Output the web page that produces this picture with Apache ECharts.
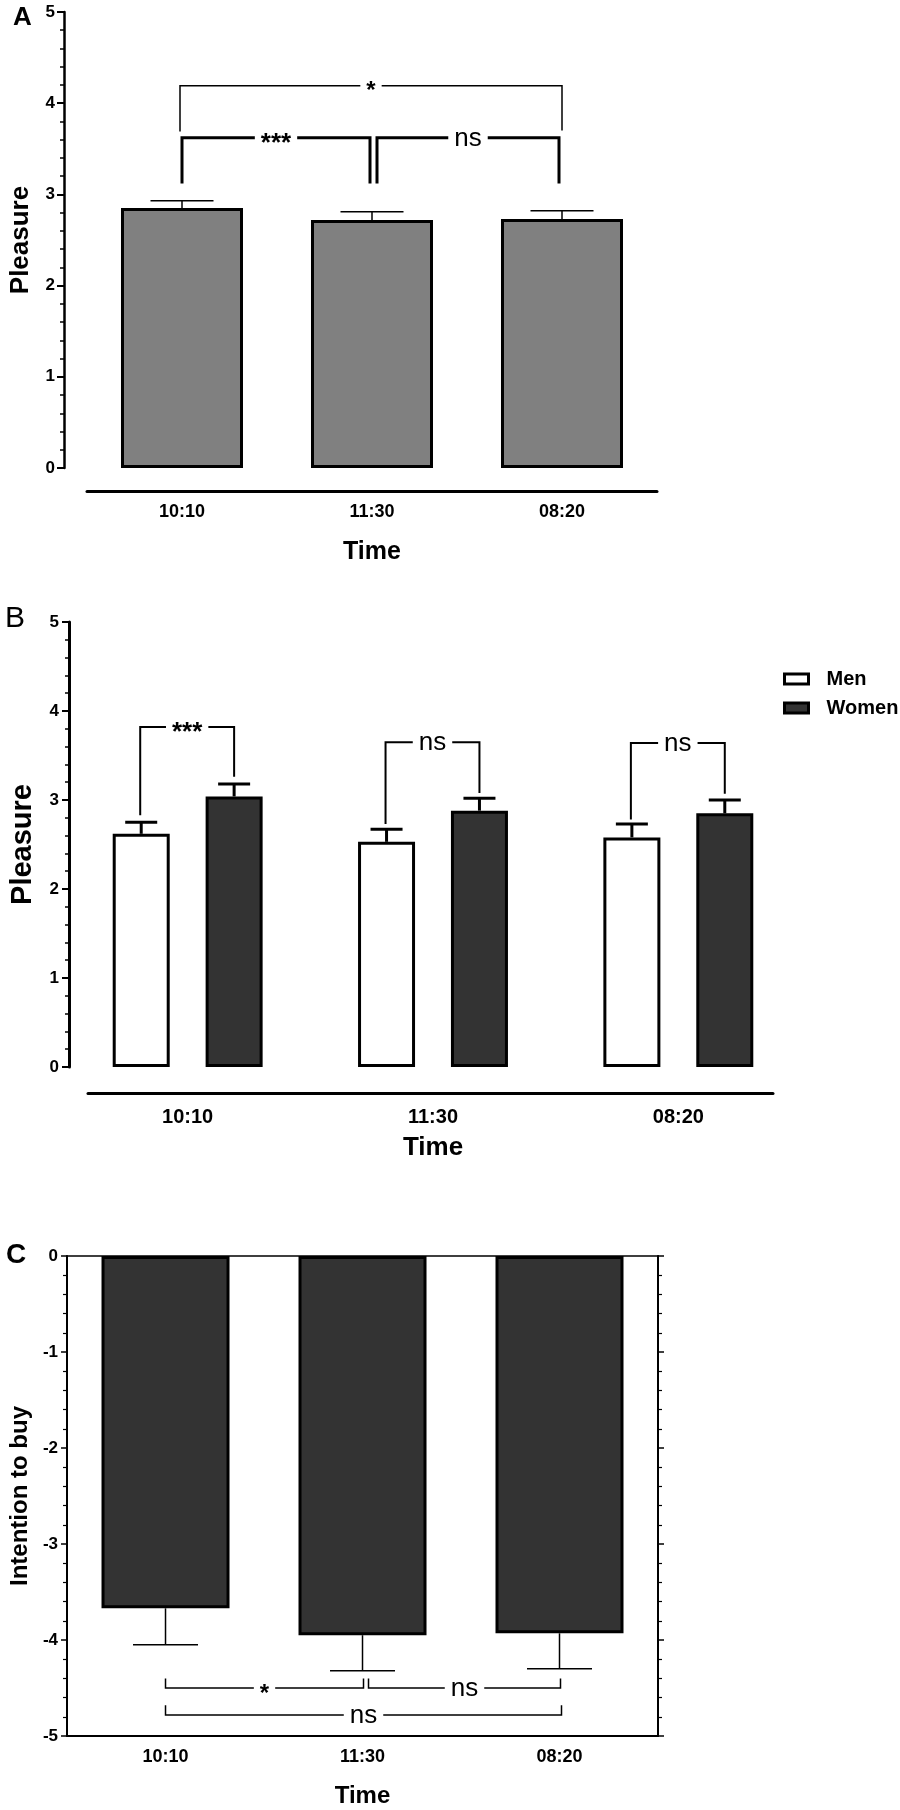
<!DOCTYPE html>
<html>
<head>
<meta charset="utf-8">
<script src="https://cdn.jsdelivr.net/npm/echarts@6/dist/echarts.min.js"></script>
<style>html,body{margin:0;padding:0;background:#fff}#c{width:900px;height:1810px}</style>
</head>
<body>
<div id="c"></div>
<script>
// ---------- data ----------
const categories = ['10:10', '11:30', '08:20'];
// Panel A: pleasure by time
const pleasureMean = [2.85, 2.72, 2.73];
const pleasureSem  = [0.08, 0.09, 0.09];
// Panel B: pleasure by time and gender
const menMean   = [2.62, 2.53, 2.58];
const menSem    = [0.13, 0.14, 0.15];
const womenMean = [3.04, 2.88, 2.85];
const womenSem  = [0.14, 0.14, 0.15];
// Panel C: intention to buy
const intentMean = [-3.67, -3.95, -3.93];
const intentSem  = [0.38, 0.37, 0.37];
// y tick values
const pleasureTicks = [0, 1, 2, 3, 4, 5];
const intentTicks = [-5, -4, -3, -2, -1, 0];
// significance brackets
const sigA_pairs = [[0, 2], [0, 1], [1, 2]];
const sigA_top   = [4.19, 3.62, 3.62];
const sigA_legs  = [[3.69, 3.70], [3.12, 3.12], [3.12, 3.12]];
const sigA_text  = ['*', '***', 'ns'];
const sigB_cat   = [0, 1, 2];
const sigB_top   = [3.82, 3.65, 3.64];
const sigB_legs  = [[2.83, 3.26], [2.73, 3.08], [2.78, 3.07]];
const sigB_text  = ['***', 'ns', 'ns'];
const sigC_pairs = [[0, 1], [1, 2], [0, 2]];
const sigC_line  = [-4.50, -4.50, -4.78];
const sigC_legs  = [[-4.40, -4.40], [-4.40, -4.40], [-4.68, -4.68]];
const sigC_text  = ['*', 'ns', 'ns'];

// ---------- styling helpers ----------
const FONT = '"Liberation Sans", Arial, Helvetica, sans-serif';
const BLACK = '#000';
const B_BARW = 57, B_GAP = 0.63;
const B_OFF = B_BARW * (1 + B_GAP) / 2;

function errRender(offset, capHalf, lw) {
  return function (params, api) {
    const i = api.value(0);
    const a = api.coord([i, api.value(1)]);
    const b = api.coord([i, api.value(2)]);
    const x = a[0] + offset;
    return {
      type: 'group',
      children: [
        { type: 'line', shape: { x1: x, y1: a[1], x2: x, y2: b[1] }, style: { stroke: BLACK, lineWidth: lw } },
        { type: 'line', shape: { x1: x - capHalf, y1: b[1], x2: x + capHalf, y2: b[1] }, style: { stroke: BLACK, lineWidth: lw } }
      ]
    };
  };
}

function bracketRender(getX, tops, legs, texts, lwFn) {
  return function (params, api) {
    const k = params.dataIndex;
    const xs = getX(api, k);
    const x1 = xs[0], x2 = xs[1];
    const yT = api.coord([0, tops[k]])[1];
    const y1 = api.coord([0, legs[k][0]])[1];
    const y2 = api.coord([0, legs[k][1]])[1];
    const t = texts[k];
    const star = t.indexOf('*') >= 0;
    const font = star ? ('bold ' + (t.length > 1 ? 26 : 24) + 'px ' + FONT) : ('26px ' + FONT);
    return {
      type: 'group',
      children: [
        { type: 'polyline', shape: { points: [[x1, y1], [x1, yT], [x2, yT], [x2, y2]] },
          style: { stroke: BLACK, lineWidth: lwFn(k), fill: 'none' } },
        { type: 'text', x: (x1 + x2) / 2, y: yT + (star ? 6 : 1),
          style: { text: t, font: font, fill: BLACK, align: 'center', verticalAlign: 'middle',
                   backgroundColor: '#fff', padding: [0, 6] } }
      ]
    };
  };
}

const dxA = [[-2, 0], [0, -2], [5, -3]];
const dxC = [[0, 1], [6, 1], [0, 2]];

function catAxis(grid, extra) {
  return Object.assign({
    gridIndex: grid, type: 'category', data: categories,
    axisLine: { onZero: false, lineStyle: { color: BLACK, width: 3 } },
    axisTick: { alignWithLabel: true, length: 7, lineStyle: { color: BLACK, width: 2 } },
    axisLabel: { color: BLACK, fontWeight: 'bold', fontSize: 18, margin: 12, fontFamily: FONT },
    splitLine: { show: false },
    nameLocation: 'middle',
    nameTextStyle: { color: BLACK, fontWeight: 'bold', fontSize: 25, fontFamily: FONT }
  }, extra);
}

function valAxis(grid, min, max, extra) {
  return Object.assign({
    gridIndex: grid, type: 'value', min: min, max: max, interval: 1,
    axisLine: { show: true, onZero: false, lineStyle: { color: BLACK, width: 2.5 } },
    axisTick: { show: true, length: 7, lineStyle: { color: BLACK, width: 2 } },
    minorTick: { show: true, splitNumber: 5, length: 4, lineStyle: { color: BLACK, width: 1.5 } },
    axisLabel: { color: BLACK, fontWeight: 'bold', fontSize: 17, margin: 9, fontFamily: FONT },
    splitLine: { show: false },
    minorSplitLine: { show: false },
    nameLocation: 'middle',
    nameTextStyle: { color: BLACK, fontWeight: 'bold', fontSize: 26, fontFamily: FONT }
  }, extra);
}

const chart = echarts.init(document.getElementById('c'), null, { renderer: 'canvas' });

const option = {
  animation: false,
  backgroundColor: '#fff',
  textStyle: { fontFamily: FONT },
  graphic: [
    { type: 'text', left: 13, top: 5, style: { text: 'A', font: 'bold 26px ' + FONT, fill: BLACK } },
    { type: 'text', left: 5, top: 604, style: { text: 'B', font: '30px ' + FONT, fill: BLACK } },
    { type: 'text', left: 6, top: 1241, style: { text: 'C', font: 'bold 28px ' + FONT, fill: BLACK } }
  ],
  legend: {
    data: ['Men', 'Women'], orient: 'vertical', left: 778, top: 664,
    itemWidth: 24, itemHeight: 10, itemGap: 9, icon: 'rect', selectedMode: false,
    itemStyle: { borderWidth: 3, borderColor: BLACK },
    textStyle: { fontSize: 20, fontWeight: 'bold', color: BLACK, fontFamily: FONT, padding: [0, 0, 0, 13] }
  },
  grid: [
    { left: 85, top: 12, width: 572, height: 456 },
    { left: 59, top: 622, width: 742, height: 445 },
    { left: 88, top: 622, width: 685, height: 445 },
    { left: 62, top: 1256, width: 596, height: 480 }
  ],
  xAxis: [
    catAxis(0, { offset: 23, name: 'Time', nameGap: 49 }),
    catAxis(1, {
      offset: 26, name: 'Time', nameGap: 42,
      axisLine: { show: false, onZero: false },
      axisTick: { alignWithLabel: true, length: 6, lineStyle: { color: BLACK, width: 3 } },
      axisLabel: { color: BLACK, fontWeight: 'bold', fontSize: 20, margin: 14, fontFamily: FONT },
      nameTextStyle: { color: BLACK, fontWeight: 'bold', fontSize: 26, fontFamily: FONT }
    }),
    { gridIndex: 2, type: 'value', min: 0, max: 1, offset: 26,
      axisLine: { show: true, onZero: false, lineStyle: { color: BLACK, width: 3 } },
      axisTick: { show: false }, axisLabel: { show: false }, splitLine: { show: false } },
    catAxis(3, {
      position: 'bottom', name: 'Time', nameGap: 48,
      axisLine: { onZero: false, lineStyle: { color: BLACK, width: 2 } },
      axisTick: { alignWithLabel: true, length: 6, lineStyle: { color: BLACK, width: 1.5 } },
      nameTextStyle: { color: BLACK, fontWeight: 'bold', fontSize: 24, fontFamily: FONT }
    }),
    catAxis(3, {
      position: 'top',
      axisLine: { onZero: false, lineStyle: { color: BLACK, width: 1.5 } },
      axisTick: { alignWithLabel: true, length: 7, lineStyle: { color: BLACK, width: 1.5 } },
      axisLabel: { show: false }
    })
  ],
  yAxis: [
    valAxis(0, pleasureTicks[0], pleasureTicks[pleasureTicks.length - 1], { offset: 23, name: 'Pleasure', nameGap: 30 }),
    valAxis(1, pleasureTicks[0], pleasureTicks[pleasureTicks.length - 1], {
      offset: -4, name: 'Pleasure', nameGap: 32,
      axisLine: { show: true, onZero: false, lineStyle: { color: BLACK, width: 3 } },
      axisLabel: { color: BLACK, fontWeight: 'bold', fontSize: 17, margin: 10, fontFamily: FONT },
      nameTextStyle: { color: BLACK, fontWeight: 'bold', fontSize: 29, fontFamily: FONT }
    }),
    { gridIndex: 2, type: 'value', show: false, min: 0, max: 1 },
    valAxis(3, intentTicks[0], intentTicks[intentTicks.length - 1], {
      position: 'left', name: 'Intention to buy', nameGap: 33,
      axisLine: { show: true, onZero: false, lineStyle: { color: BLACK, width: 2 } },
      axisTick: { show: true, length: 6, lineStyle: { color: BLACK, width: 1.5 } },
      minorTick: { show: true, splitNumber: 5, length: 4, lineStyle: { color: BLACK, width: 1.2 } },
      nameTextStyle: { color: BLACK, fontWeight: 'bold', fontSize: 24, fontFamily: FONT }
    }),
    valAxis(3, intentTicks[0], intentTicks[intentTicks.length - 1], {
      position: 'right',
      axisLine: { show: true, onZero: false, lineStyle: { color: BLACK, width: 2 } },
      axisTick: { show: true, length: 6, lineStyle: { color: BLACK, width: 1.5 } },
      minorTick: { show: true, splitNumber: 5, length: 4, lineStyle: { color: BLACK, width: 1.2 } },
      axisLabel: { show: false }
    })
  ],
  series: [
    // Panel A
    { type: 'bar', xAxisIndex: 0, yAxisIndex: 0, data: pleasureMean, barWidth: 122,
      itemStyle: { color: '#808080', borderColor: BLACK, borderWidth: 3 }, z: 2 },
    { type: 'custom', xAxisIndex: 0, yAxisIndex: 0, z: 3,
      renderItem: errRender(0, 31.5, 1.5),
      encode: { x: 0, y: [1, 2] },
      data: pleasureMean.map((m, i) => [i, m, m + pleasureSem[i]]) },
    { type: 'custom', xAxisIndex: 0, yAxisIndex: 0, z: 4,
      renderItem: bracketRender(
        (api, k) => [api.coord([sigA_pairs[k][0], 0])[0] + dxA[k][0], api.coord([sigA_pairs[k][1], 0])[0] + dxA[k][1]],
        sigA_top, sigA_legs, sigA_text, k => (k === 0 ? 1.5 : 3)),
      encode: { x: 0, y: 1 },
      data: sigA_top.map((t, k) => [sigA_pairs[k][0], t]) },
    // Panel B
    { name: 'Men', type: 'bar', xAxisIndex: 1, yAxisIndex: 1, data: menMean, barWidth: B_BARW, barGap: (B_GAP * 100) + '%',
      itemStyle: { color: '#fff', borderColor: BLACK, borderWidth: 3 }, z: 2 },
    { name: 'Women', type: 'bar', xAxisIndex: 1, yAxisIndex: 1, data: womenMean, barWidth: B_BARW, barGap: (B_GAP * 100) + '%',
      itemStyle: { color: '#333333', borderColor: BLACK, borderWidth: 3 }, z: 2 },
    { type: 'custom', xAxisIndex: 1, yAxisIndex: 1, z: 3,
      renderItem: errRender(-B_OFF, 16, 3),
      encode: { x: 0, y: [1, 2] },
      data: menMean.map((m, i) => [i, m, m + menSem[i]]) },
    { type: 'custom', xAxisIndex: 1, yAxisIndex: 1, z: 3,
      renderItem: errRender(B_OFF, 16, 3),
      encode: { x: 0, y: [1, 2] },
      data: womenMean.map((m, i) => [i, m, m + womenSem[i]]) },
    { type: 'custom', xAxisIndex: 1, yAxisIndex: 1, z: 4,
      renderItem: bracketRender(
        (api, k) => { const c = api.coord([sigB_cat[k], 0])[0]; return [c - B_OFF - 1, c + B_OFF]; },
        sigB_top, sigB_legs, sigB_text, () => 2),
      encode: { x: 0, y: 1 },
      data: sigB_top.map((t, k) => [sigB_cat[k], t]) },
    // Panel C
    { type: 'bar', xAxisIndex: 3, yAxisIndex: 3, data: intentMean, barWidth: 128,
      itemStyle: { color: '#333333', borderColor: BLACK, borderWidth: 3 }, z: 2 },
    { type: 'custom', xAxisIndex: 3, yAxisIndex: 3, z: 3,
      renderItem: errRender(0, 32.5, 1.5),
      encode: { x: 0, y: [1, 2] },
      data: intentMean.map((m, i) => [i, m, m - intentSem[i]]) },
    { type: 'custom', xAxisIndex: 3, yAxisIndex: 3, z: 4,
      renderItem: bracketRender(
        (api, k) => [api.coord([sigC_pairs[k][0], 0])[0] + dxC[k][0], api.coord([sigC_pairs[k][1], 0])[0] + dxC[k][1]],
        sigC_line, sigC_legs, sigC_text, () => 1.5),
      encode: { x: 0, y: 1 },
      data: sigC_line.map((t, k) => [sigC_pairs[k][0], t]) }
  ]
};

chart.setOption(option);
</script>
</body>
</html>
